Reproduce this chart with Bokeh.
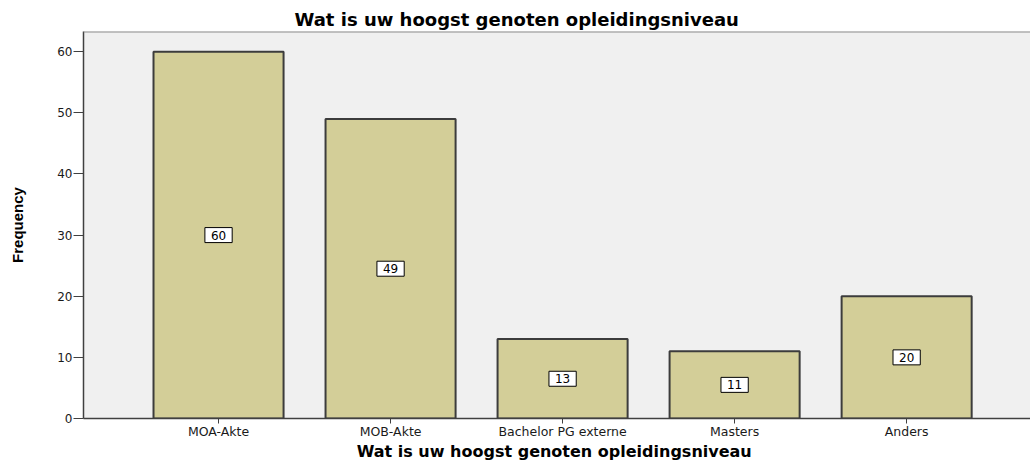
from bokeh.plotting import figure
from bokeh.models import ColumnDataSource, Range1d, FixedTicker, Span
from bokeh.core.properties import value
from bokeh.embed import file_html
from bokeh.resources import INLINE

categories = ["MOA-Akte", "MOB-Akte", "Bachelor PG externe", "Masters", "Anders"]
frequencies = [60, 49, 13, 11, 20]
y_ticks = [0, 10, 20, 30, 40, 50, 60]
title_text = "Wat is  uw hoogst genoten opleidingsniveau"

xs = [i + 0.5 for i in range(len(categories))]
src = ColumnDataSource(dict(
    x=xs,
    top=frequencies,
    mid=[v / 2 for v in frequencies],
    lbl=[str(v) for v in frequencies],
))

y_top = 63.3
p = figure(width=1030, height=463, output_backend="svg", toolbar_location=None,
           x_range=Range1d(-0.285, 5.22), y_range=Range1d(0, y_top),
           min_border_left=83, min_border_right=0, min_border_top=31, min_border_bottom=45)

p.title.text = title_text
p.title.text_font = "DejaVu Sans"
p.title.text_font_size = "18px"
p.title.text_font_style = "bold"
p.title.text_color = "black"
p.title.align = "left"
p.title.offset = 211
p.title.standoff = 3

p.background_fill_color = "#f0f0f0"
p.border_fill_color = "white"
p.outline_line_color = None
p.xgrid.visible = False
p.ygrid.visible = False

p.add_layout(Span(location=y_top, dimension="width", line_color="#8c8c8c", line_width=2))

p.vbar(x="x", top="top", width=0.756, bottom=0, source=src,
       fill_color="#d3ce98", line_color="#3c3c3c", line_width=2)

p.text(x="x", y="mid", text="lbl", source=src,
       text_font=value("DejaVu Sans"), text_font_size="12px",
       text_align="center", text_baseline="middle", text_color="black",
       background_fill_color="white", border_line_color="black",
       border_line_width=1, padding=(6, 3))

xa = p.xaxis[0]
xa.ticker = FixedTicker(ticks=xs)
xa.major_label_overrides = {x: c for x, c in zip(xs, categories)}
xa.minor_tick_line_color = None
xa.major_tick_in = 0
xa.major_tick_out = 5
xa.major_label_standoff = 0
xa.major_label_text_font = "DejaVu Sans"
xa.major_label_text_font_size = "12.5px"
xa.major_label_text_color = "#1a1a1a"
xa.axis_line_color = "#404040"
xa.axis_line_width = 1.5
xa.major_tick_line_color = "#404040"
xa.axis_label = title_text
xa.axis_label_text_font = "DejaVu Sans"
xa.axis_label_text_font_size = "16px"
xa.axis_label_text_font_style = "bold"
xa.axis_label_text_color = "black"
xa.axis_label_standoff = 0

ya = p.yaxis[0]
ya.ticker = FixedTicker(ticks=y_ticks)
ya.minor_tick_line_color = None
ya.major_tick_in = 0
ya.major_tick_out = 10
ya.major_label_standoff = 1
ya.major_label_text_font = "DejaVu Sans"
ya.major_label_text_font_size = "12px"
ya.major_label_text_color = "#1a1a1a"
ya.axis_line_color = "#404040"
ya.axis_line_width = 1.5
ya.major_tick_line_color = "#404040"
ya.axis_label = "Frequency"
ya.axis_label_text_font = "Liberation Sans"
ya.axis_label_text_font_size = "15px"
ya.axis_label_text_font_style = "bold"
ya.axis_label_text_color = "black"
ya.axis_label_standoff = 28

open("out.html", "w").write(file_html(p, INLINE))
